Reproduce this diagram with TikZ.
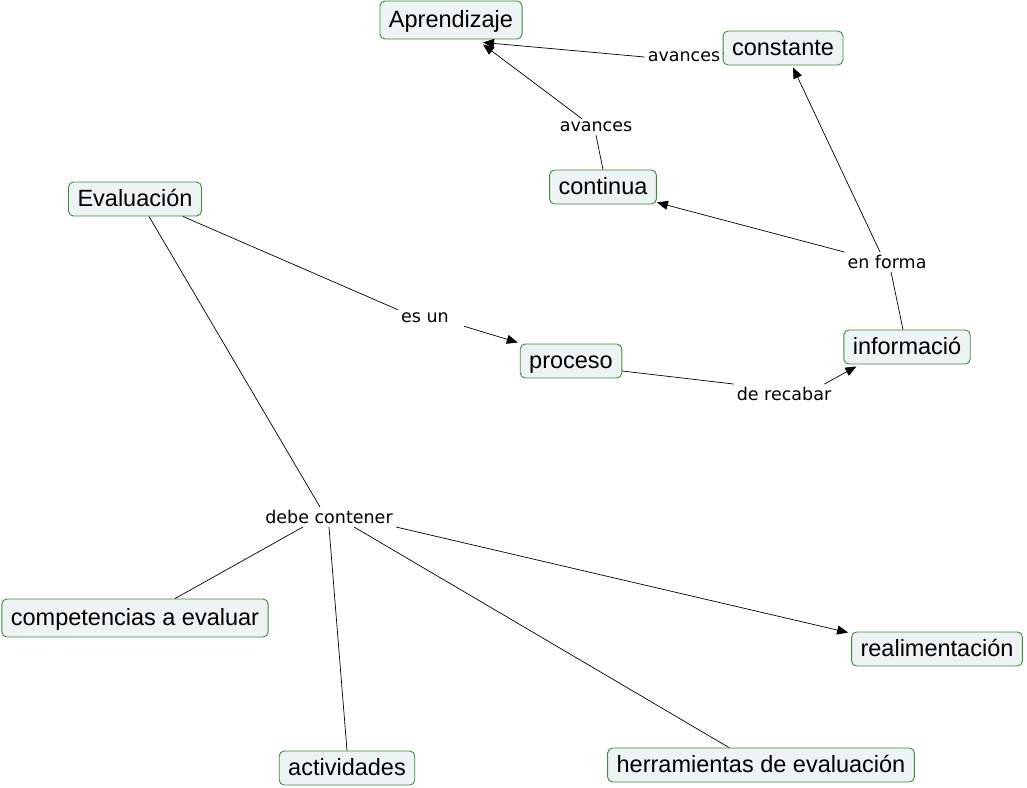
\documentclass[tikz,border=0pt]{standalone}
\usepackage{fontspec}
\setmainfont{Liberation Sans}
\newfontfamily\lblfont{DejaVu Sans}
\usetikzlibrary{arrows.meta}
\definecolor{cgreen}{HTML}{3C8C3C}
\definecolor{cfill}{HTML}{EEF4F4}
\tikzset{
  concept/.style={draw=cgreen, fill=cfill, rounded corners=5pt, line width=0.9pt,
    font=\fontsize{23.5}{26}\selectfont, inner xsep=9pt, inner ysep=0pt, minimum height=34pt, text height=18pt, text depth=3pt},
  lbl/.style={font=\lblfont\fontsize{17.5}{20}\selectfont, inner sep=3pt},
  link/.style={line width=0.7pt, black},
  arr/.style={link, -{Triangle[length=11pt,width=9pt]}}
}
\begin{document}
\begin{tikzpicture}[x=1pt,y=-1pt]
\useasboundingbox (0,0) rectangle (1027,787);
% concepts
\node[concept, minimum height=38pt] (apr) at (451,20) {Aprendizaje};
\node[concept] (cons) at (783,48) {constante};
\node[concept] (cont) at (603,187) {continua};
\node[concept] (eval) at (135,199) {Evaluación};
\node[concept] (proc) at (571,361) {proceso};
\node[concept] (info) at (907,347) {informació};
\node[concept, minimum height=38pt] (comp) at (135,618) {competencias a evaluar};
\node[concept] (real) at (937,649) {realimentación};
\node[concept] (act) at (347,768) {actividades};
\node[concept] (herr) at (761,765) {herramientas de evaluación};
% labels
\node[lbl] (av1) at (684,57) {avances};
\node[lbl] (av2) at (596,127) {avances};
\node[lbl] (enf) at (887,262) {en forma};
\node[lbl] (esun) at (425,318) {es un};
\node[lbl] (recab) at (784,394) {de recabar};
\node[lbl] (debe) at (329,517) {debe contener};
% connectors
\draw[link] (cons) -- (av1);
\draw[arr] (av1.west) -- ([xshift=32pt,yshift=-3pt]apr.south);
\draw[link] (cont.north) -- (av2.south);
\draw[arr] ([xshift=-14pt]av2.north) -- ([xshift=32pt,yshift=-5pt]apr.south);
\draw[link] ([xshift=-4pt]info.north) -- ([xshift=4pt]enf.south);
\draw[arr] (enf.north west) -- ([yshift=2pt]cont.south east);
\draw[arr] ([xshift=-7pt]enf.north) -- ([xshift=10pt,yshift=-2pt]cons.south);
\draw[link] ([xshift=-19pt]eval.south east) -- (esun.north west);
\draw[arr] ([xshift=12pt]esun.south east) -- ([xshift=-2pt,yshift=1pt]proc.north west);
\draw[link] ([yshift=-10pt]proc.east) -- (recab.north west);
\draw[arr] ([xshift=-10pt]recab.north east) -- ([xshift=13pt,yshift=-2pt]info.south west);
\draw[link] ([xshift=14pt]eval.south) -- ([xshift=-9pt]debe.north);
\draw[link] ([xshift=-26pt]debe.south) -- ([xshift=40pt]comp.north);
\draw[link] (debe.south) -- (act.north);
\draw[link] ([xshift=25pt]debe.south) -- ([xshift=-32pt]herr.north);
\draw[arr] (debe.south east) -- ([xshift=-3pt,yshift=-1pt]real.north west);
\end{tikzpicture}
\end{document}
